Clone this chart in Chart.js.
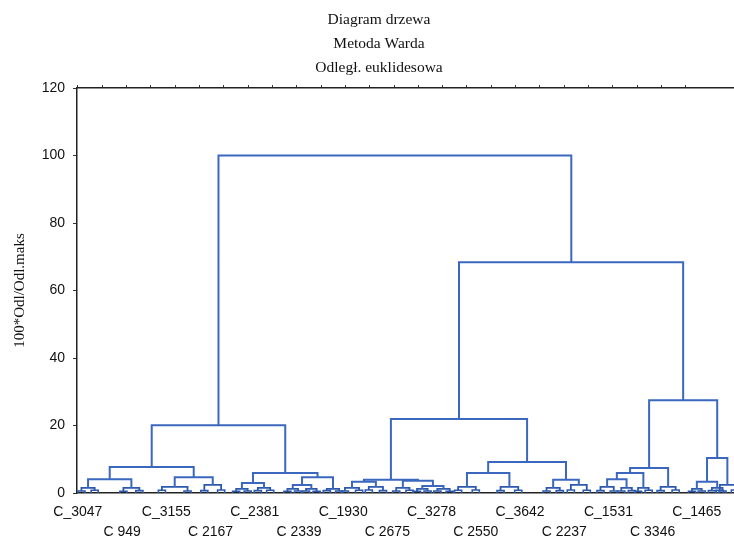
<!DOCTYPE html>
<html>
<head>
<meta charset="utf-8">
<script src="https://cdn.jsdelivr.net/npm/chart.js@4.4.0/dist/chart.umd.min.js"></script>
<style>
    html, body { margin: 0; padding: 0; background: #fff; }
</style>
</head>
<body>
<canvas id="tree" width="734" height="539"></canvas>
<script>
// Title and axis text
const titleLines = ['Diagram drzewa', 'Metoda Warda', 'Odległ. euklidesowa'];
const yTitle = '100*Odl/Odl.maks';

// Leaf labels (every 10th leaf on the x axis)
const leafLabels = ['C_3047', 'C 949', 'C_3155', 'C 2167', 'C_2381', 'C 2339', 'C_1930', 'C 2675',
    'C_3278', 'C 2550', 'C_3642', 'C 2237', 'C_1531', 'C 3346', 'C_1465'];
const leafStep = 10;

// Links: left x, right x, join height, height of left child, height of right child
const linkLeft   = [31.8, 16.7, 7.2, 2.3, 21.9, 39.6, 37.1, 50.7, 48.6, 70.8, 64.7, 62.0, 73.5, 77.9, 92.8, 88.0, 107.5, 86.2, 129.2, 124.9, 121.9, 119.7, 142.3, 140.0];
const linkRight  = [111.6, 46.9, 26.2, 12.1, 30.5, 54.2, 42.1, 57.7, 52.8, 101.6, 76.9, 67.4, 80.3, 82.7, 110.4, 97.6, 113.3, 136.9, 144.6, 133.5, 127.9, 124.1, 146.9, 144.6];
const linkHeight = [100, 20.1, 7.7, 4.1, 4.7, 5.9, 3.0, 4.7, 2.4, 21.9, 3.9, 3.3, 3.6, 2.1, 9.2, 5.9, 3.9, 68.4, 27.5, 7.4, 5.9, 4.1, 10.4, 3.3];
const linkLeftH  = [20.1, 7.7, 4.1, 1.5, 1.8, 3.0, 1.2, 2.4, 1.2, 3.9, 3.3, 1.5, 1.5, 1.2, 5.9, 1.8, 1.5, 21.9, 7.4, 5.9, 4.1, 1.8, 3.3, 1.2];
const linkRightH = [68.4, 5.9, 4.7, 1.5, 2.4, 4.7, 1.5, 1.2, 1.2, 9.2, 3.6, 1.8, 2.1, 1.2, 3.9, 1.8, 2.4, 27.5, 10.4, 1.8, 1.5, 1.5, 2.4, 1.5];

// Small clusters near the bottom; bush i sits on twigs 2i (left) and 2i+1 (right)
const bushLeft   = [0.8, 10.3, 19.0, 28.6, 35.8, 40.7, 47.4, 51.6, 56.3, 60.4, 65.8, 72.0, 76.7, 81.3, 86.0, 95.6, 106.0, 111.5, 118.2, 122.9, 126.7, 131.8, 138.9, 143.4, 145.2];
const bushRight  = [3.8, 13.9, 24.8, 32.4, 38.4, 43.5, 49.8, 54.0, 59.1, 63.6, 69.0, 75.0, 79.1, 84.1, 90.0, 99.6, 109.0, 115.1, 121.2, 125.3, 129.1, 135.2, 141.1, 145.8, 148.6];
const bushHeight = [1.5, 1.5, 1.8, 2.4, 1.2, 1.5, 1.2, 1.2, 1.2, 1.5, 1.8, 1.5, 1.2, 1.2, 1.8, 1.8, 1.5, 2.4, 1.8, 1.5, 1.5, 1.8, 1.2, 1.5, 2.4];

// Lowest joins (legs go down to 0)
const twigLeft   = [0.0, 3.0, 9.5, 13.1, 18.2, 24.0, 27.8, 31.6, 35.0, 37.6, 39.9, 42.7, 46.6, 49.0, 50.8, 53.2, 55.5, 58.3, 59.6, 62.8, 65.0, 68.2, 71.2, 74.2, 75.9,
    78.3, 80.5, 83.3, 85.2, 89.2, 94.8, 98.8, 105.2, 108.2, 110.7, 114.3, 117.4, 120.4, 122.1, 124.5, 125.9, 128.3, 131.0, 134.4, 138.1, 140.3, 142.6, 145.0, 144.4, 147.8];
const twigRight  = [1.6, 4.6, 11.1, 14.7, 19.8, 25.6, 29.4, 33.2, 36.6, 39.2, 41.5, 44.3, 48.2, 50.6, 52.4, 54.8, 57.1, 59.9, 61.2, 64.4, 66.6, 69.8, 72.8, 75.8, 77.5,
    79.9, 82.1, 84.9, 86.8, 90.8, 96.4, 100.4, 106.8, 109.8, 112.3, 115.9, 119.0, 122.0, 123.7, 126.1, 127.5, 129.9, 132.6, 136.0, 139.7, 141.9, 144.2, 146.6, 146.0, 149.4];
const twigHeight = [0.6, 0.8, 0.5, 0.7, 0.8, 0.6, 0.7, 0.9, 0.5, 0.6, 0.7, 0.8, 0.5, 0.6, 0.6, 0.5, 0.7, 0.6, 0.6, 0.8, 0.9, 0.7, 0.6, 0.8, 0.5,
    0.6, 0.6, 0.5, 0.8, 0.9, 0.7, 0.8, 0.6, 0.7, 0.9, 0.8, 0.7, 0.6, 0.6, 0.7, 0.5, 0.8, 0.7, 0.9, 0.5, 0.6, 0.7, 0.6, 0.8, 0.9];

const lineBlue = '#3b68be';
const bushBlue = '#2c59ad';
const serif = "'Liberation Serif', 'Times New Roman', serif";
const sans = "'Liberation Sans', Arial, sans-serif";

function uLink(l, r, h, lh, rh, color, width) {
    return {
        data: [{ x: l, y: lh }, { x: l, y: h }, { x: r, y: h }, { x: r, y: rh }],
        showLine: true,
        borderColor: color,
        borderWidth: width,
        pointRadius: 0,
        tension: 0
    };
}

const datasets = [];
linkLeft.forEach((l, i) => {
    datasets.push(uLink(l, linkRight[i], linkHeight[i], linkLeftH[i], linkRightH[i], lineBlue, 2));
});
bushLeft.forEach((l, i) => {
    datasets.push(uLink(l, bushRight[i], bushHeight[i], twigHeight[2 * i], twigHeight[2 * i + 1], bushBlue, 1.8));
});
twigLeft.forEach((l, i) => {
    datasets.push(uLink(l, twigRight[i], twigHeight[i], 0, 0, bushBlue, 1.6));
});

new Chart(document.getElementById('tree'), {
    type: 'scatter',
    data: { datasets },
    options: {
        responsive: false,
        animation: false,
        layout: { padding: { left: 0, right: -24, top: 0, bottom: 0 } },
        plugins: {
            legend: { display: false },
            tooltip: { enabled: false },
            title: {
                display: true,
                text: titleLines,
                color: '#111',
                font: { family: serif, size: 15.5, weight: 'normal', lineHeight: 1.55 },
                padding: { top: 8, bottom: 5 }
            }
        },
        scales: {
            x: {
                type: 'linear',
                position: 'bottom',
                min: -0.2,
                max: 148.4,
                grid: { display: false, drawTicks: false },
                border: { color: '#222', width: 1.5 },
                ticks: {
                    autoSkip: false,
                    maxRotation: 0,
                    minRotation: 0,
                    padding: 9,
                    color: '#111',
                    font: { family: sans, size: 14, lineHeight: 1.43 },
                    callback: (value, index) => index % 2 === 0 ? [leafLabels[index], ' '] : [' ', leafLabels[index]]
                },
                afterBuildTicks: scale => {
                    scale.ticks = leafLabels.map((_, i) => ({ value: i * leafStep }));
                },
                afterFit: scale => { scale.height = 46; }
            },
            x2: {
                type: 'linear',
                position: 'top',
                min: -0.2,
                max: 148.4,
                grid: { drawOnChartArea: false, tickLength: 3, color: '#333' },
                border: { color: '#222', width: 1.5 },
                ticks: { display: false, stepSize: 5.5 },
                afterFit: scale => { scale.height = 3; }
            },
            y: {
                min: 0,
                max: 120,
                grid: { drawOnChartArea: false, tickLength: 4, color: '#333' },
                border: { color: '#222', width: 1.5 },
                ticks: {
                    stepSize: 20,
                    padding: 8,
                    color: '#111',
                    font: { family: sans, size: 14 }
                },
                title: {
                    display: true,
                    text: yTitle,
                    color: '#111',
                    font: { family: serif, size: 15 },
                    padding: { top: 11, bottom: 0 }
                },
                afterFit: scale => { scale.width = 77; }
            }
        }
    }
});
</script>
</body>
</html>
